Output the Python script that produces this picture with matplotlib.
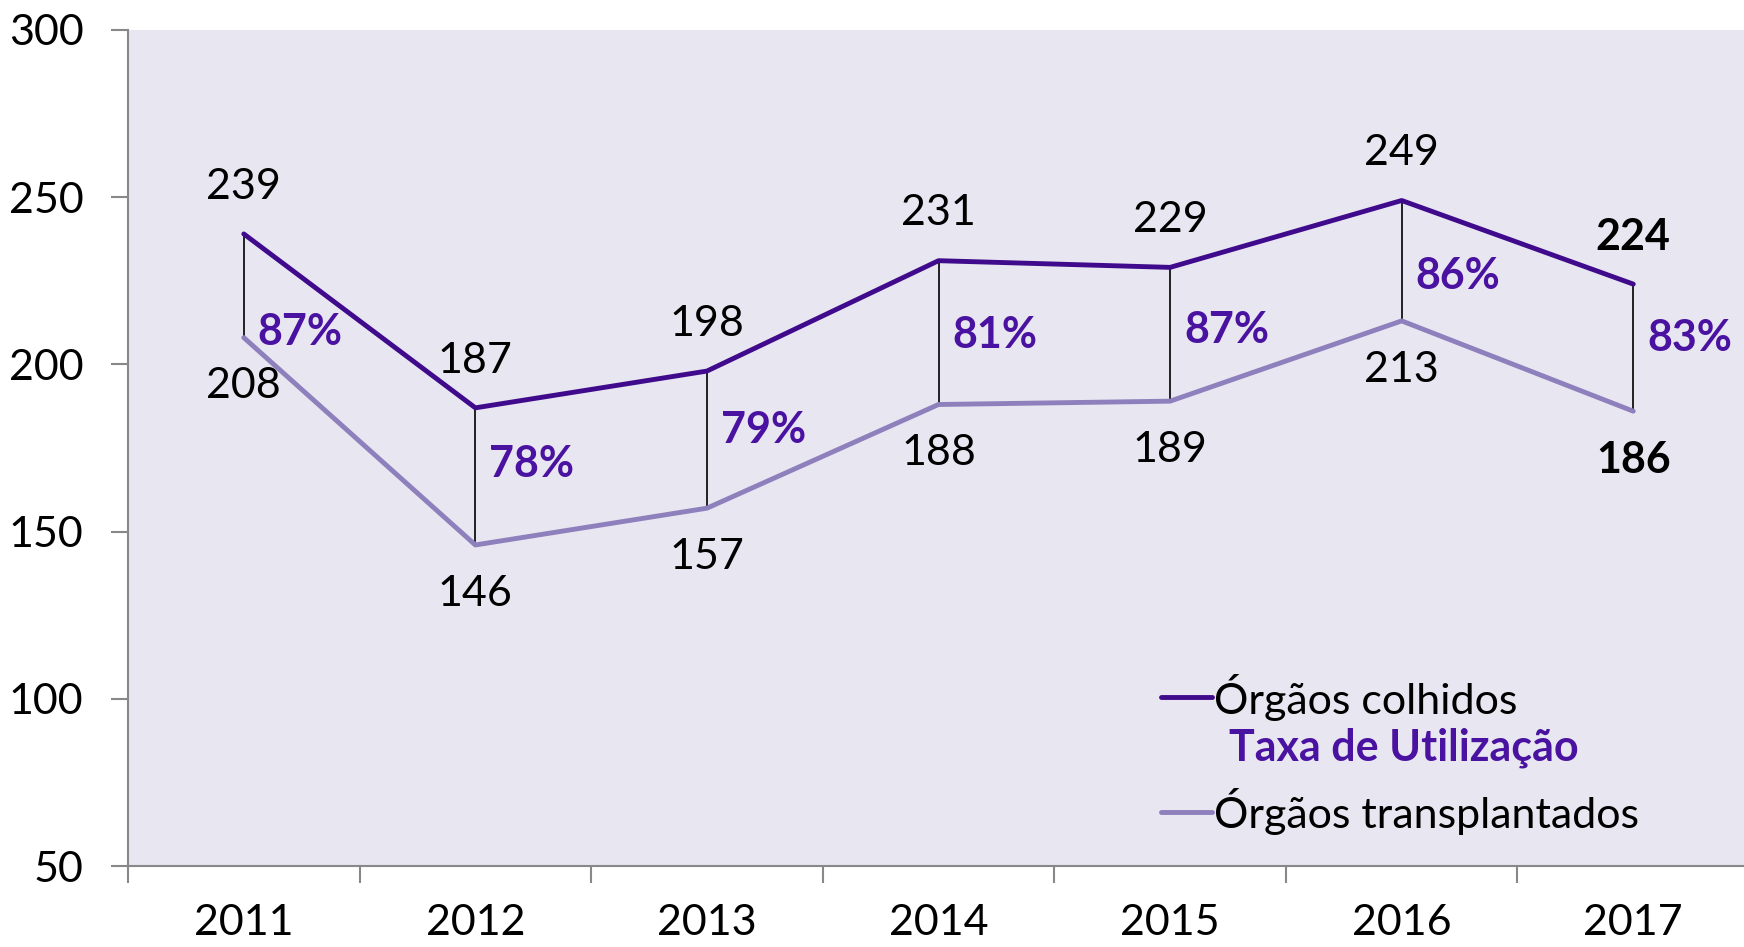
import matplotlib
matplotlib.use('Agg')
import matplotlib.pyplot as plt
import numpy as np

# Data
years = ['2011', '2012', '2013', '2014', '2015', '2016', '2017']
colhidos = [239, 187, 198, 231, 229, 249, 224]
transplantados = [208, 146, 157, 188, 189, 213, 186]
taxa = ['87%', '78%', '79%', '81%', '87%', '86%', '83%']
yticks = [50, 100, 150, 200, 250, 300]

c_dark = '#3F0A8C'
c_light = '#8E80BC'
c_pct = '#4A12A0'
bg = '#E8E6F0'
fs = 31

plt.rcParams['font.family'] = ['Lato', 'DejaVu Sans']

fig = plt.figure(figsize=(17.44, 9.47), dpi=100)
ax = fig.add_axes([0.0734, 0.0855, 0.9295, 0.8829])
ax.set_facecolor(bg)

x = np.arange(len(years))

# drop lines between the two series
ax.vlines(x, transplantados, colhidos, colors='black', lw=1.2, zorder=1)

ax.plot(x, colhidos, color=c_dark, lw=3.5, zorder=3, solid_capstyle='round')
ax.plot(x, transplantados, color=c_light, lw=3.5, zorder=2, solid_capstyle='round')

# value labels (last year in bold)
for i in range(len(years)):
    w = 'bold' if i == len(years) - 1 else 'normal'
    ax.annotate(str(colhidos[i]), (x[i], colhidos[i]), xytext=(0, 34),
                textcoords='offset points', ha='center', va='center',
                fontsize=fs, fontweight=w, color='black')
    ax.annotate(str(transplantados[i]), (x[i], transplantados[i]), xytext=(0, -35),
                textcoords='offset points', ha='center', va='center',
                fontsize=fs, fontweight=w, color='black')

# utilisation rate labels, right of the drop line
pct_dy = [-33, 9, 7, -2, 3, -11, 7]
for i in range(len(years)):
    ym = (colhidos[i] + transplantados[i]) / 2.0
    ax.annotate(taxa[i], (x[i], ym), xytext=(10, pct_dy[i]),
                textcoords='offset points', ha='left', va='center',
                fontsize=fs, fontweight='bold', color=c_pct)

# legend drawn by hand
ax.plot([0.637, 0.669], [0.202, 0.202], color=c_dark, lw=3.5,
        transform=ax.transAxes, solid_capstyle='round')
ax.text(0.670, 0.202, 'Órgãos colhidos', transform=ax.transAxes,
        fontsize=fs, va='center', ha='left')
ax.text(0.679, 0.141, 'Taxa de Utilização', transform=ax.transAxes,
        fontsize=fs, va='center', ha='left', fontweight='bold', color=c_pct)
ax.plot([0.637, 0.669], [0.065, 0.065], color=c_light, lw=3.5,
        transform=ax.transAxes, solid_capstyle='round')
ax.text(0.670, 0.065, 'Órgãos transplantados', transform=ax.transAxes,
        fontsize=fs, va='center', ha='left')

ax.set_xlim(-0.5, len(years) - 0.5)
ax.set_ylim(50, 300)
ax.set_yticks(yticks)
ax.set_yticklabels([str(v) for v in yticks], fontsize=fs)
ax.set_xticks(x)
ax.set_xticklabels(years, fontsize=fs)
ax.set_xticks(np.arange(len(years) + 1) - 0.5, minor=True)
ax.tick_params(axis='x', which='major', length=0, pad=27)
ax.tick_params(axis='x', which='minor', length=12, color='#888888', width=1.5)
ax.tick_params(axis='y', length=12, color='#888888', width=1.5, pad=20)

for s in ['top', 'right']:
    ax.spines[s].set_visible(False)
for s in ['left', 'bottom']:
    ax.spines[s].set_color('#888888')
    ax.spines[s].set_linewidth(1.5)

fig.savefig('out.png', dpi=100)
